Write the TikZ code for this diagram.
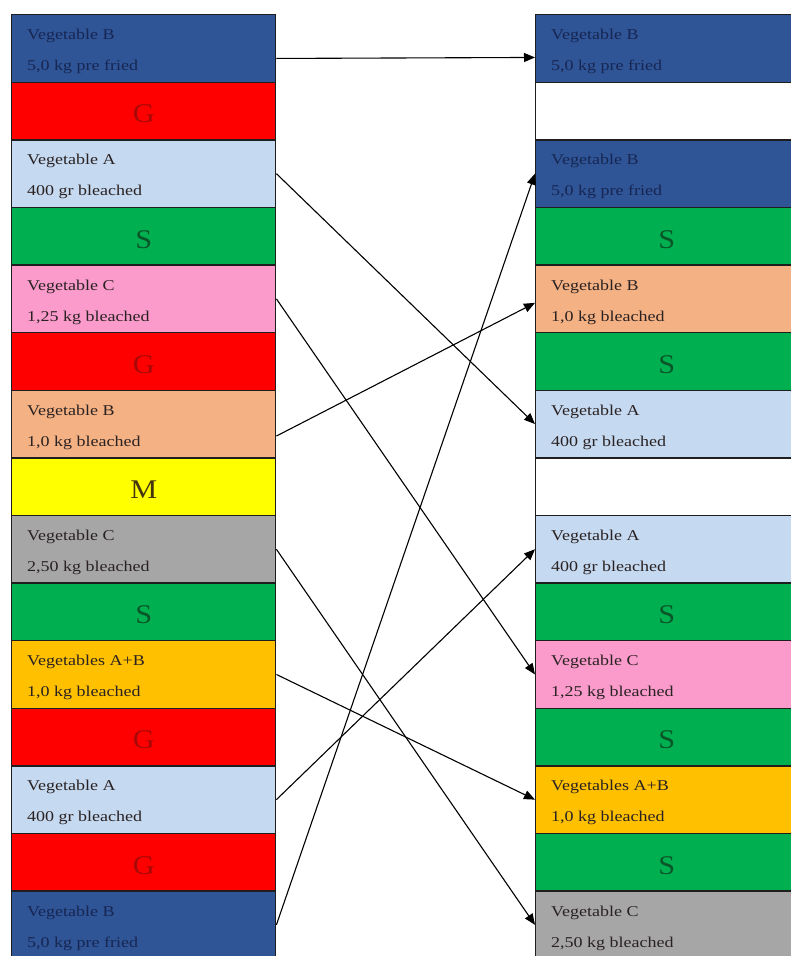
\documentclass[tikz,border=0pt]{standalone}
\usepackage{fontspec}
\setmainfont{Liberation Serif}
\newfontfamily\infofamily[FakeStretch=1.2]{Liberation Serif}
\newfontfamily\tagfamily[FakeStretch=1.12]{Liberation Serif}
\usetikzlibrary{arrows.meta}

\definecolor{cellline}{HTML}{1E1E1E}
\definecolor{vegblue}{HTML}{2F5597}
\definecolor{vegred}{HTML}{FF0000}
\definecolor{veglight}{HTML}{C5D9F1}
\definecolor{veggreen}{HTML}{00B050}
\definecolor{vegpink}{HTML}{FA9BCB}
\definecolor{vegtan}{HTML}{F4B183}
\definecolor{vegyellow}{HTML}{FFFF00}
\definecolor{veggray}{HTML}{A6A6A6}
\definecolor{vegamber}{HTML}{FFC000}
\definecolor{inkdark}{HTML}{2A2222}
\definecolor{inknavy}{HTML}{172652}
\definecolor{inkred}{HTML}{A80808}
\definecolor{inkgreen}{HTML}{0A5628}
\definecolor{inkolive}{HTML}{443510}

\tikzset{
  cell/.style={rectangle, draw=cellline, line width=1.4pt, inner sep=0pt,
    anchor=north west},
  leftcell/.style={cell, minimum width=264pt},
  rightcell/.style={cell, minimum width=262pt},
  tall/.style={minimum height=67.5pt},
  short/.style={minimum height=57.7pt},
  info/.style={anchor=north west, inner sep=0pt, align=left, text=inkdark,
    font=\infofamily\fontsize{15pt}{31pt}\selectfont},
  tag/.style={inner sep=0pt, yshift=-3pt,
    font=\tagfamily\fontsize{27pt}{27pt}\selectfont},
  flow/.style={draw=black, line width=1.1pt,
    -{Triangle[length=11pt,width=9pt]}}
}

\begin{document}
\begin{tikzpicture}[x=1pt, y=-1pt]
\useasboundingbox (0,0) rectangle (791,956);

% ---------- left column ----------
\node[leftcell, tall,  fill=vegblue]   (L1)  at (11,14)    {};
\node[leftcell, short, fill=vegred]    (L2)  at (11,81.5)  {};
\node[leftcell, tall,  fill=veglight]  (L3)  at (11,139.2) {};
\node[leftcell, short, fill=veggreen]  (L4)  at (11,206.7) {};
\node[leftcell, tall,  fill=vegpink]   (L5)  at (11,264.4) {};
\node[leftcell, short, fill=vegred]    (L6)  at (11,331.9) {};
\node[leftcell, tall,  fill=vegtan]    (L7)  at (11,389.6) {};
\node[leftcell, short, fill=vegyellow] (L8)  at (11,457.1) {};
\node[leftcell, tall,  fill=veggray]   (L9)  at (11,514.8) {};
\node[leftcell, short, fill=veggreen]  (L10) at (11,582.3) {};
\node[leftcell, tall,  fill=vegamber]  (L11) at (11,640)   {};
\node[leftcell, short, fill=vegred]    (L12) at (11,707.5) {};
\node[leftcell, tall,  fill=veglight]  (L13) at (11,765.2) {};
\node[leftcell, short, fill=vegred]    (L14) at (11,832.7) {};
\node[leftcell, tall,  fill=vegblue]   (L15) at (11,890.4) {};

\node[info, text=inknavy] (L1t)  at ([shift={(16,15)}]L1.north west)  {Vegetable B\\5,0 kg pre fried};
\node[tag, text=inkred]   (L2t)  at (L2.center)  {G};
\node[info]               (L3t)  at ([shift={(16,15)}]L3.north west)  {Vegetable A\\400 gr bleached};
\node[tag, text=inkgreen] (L4t)  at (L4.center)  {S};
\node[info]               (L5t)  at ([shift={(16,15)}]L5.north west)  {Vegetable C\\1,25 kg bleached};
\node[tag, text=inkred]   (L6t)  at (L6.center)  {G};
\node[info]               (L7t)  at ([shift={(16,15)}]L7.north west)  {Vegetable B\\1,0 kg bleached};
\node[tag, text=inkolive] (L8t)  at (L8.center)  {M};
\node[info]               (L9t)  at ([shift={(16,15)}]L9.north west)  {Vegetable C\\2,50 kg bleached};
\node[tag, text=inkgreen] (L10t) at (L10.center) {S};
\node[info]               (L11t) at ([shift={(16,15)}]L11.north west) {Vegetables A+B\\1,0 kg bleached};
\node[tag, text=inkred]   (L12t) at (L12.center) {G};
\node[info]               (L13t) at ([shift={(16,15)}]L13.north west) {Vegetable A\\400 gr bleached};
\node[tag, text=inkred]   (L14t) at (L14.center) {G};
\node[info, text=inknavy] (L15t) at ([shift={(16,15)}]L15.north west) {Vegetable B\\5,0 kg pre fried};

% ---------- right column ----------
\node[rightcell, tall,  fill=vegblue]  (R1)  at (535,14)    {};
\node[rightcell, short, fill=white]    (R2)  at (535,81.5)  {};
\node[rightcell, tall,  fill=vegblue]  (R3)  at (535,139.2) {};
\node[rightcell, short, fill=veggreen] (R4)  at (535,206.7) {};
\node[rightcell, tall,  fill=vegtan]   (R5)  at (535,264.4) {};
\node[rightcell, short, fill=veggreen] (R6)  at (535,331.9) {};
\node[rightcell, tall,  fill=veglight] (R7)  at (535,389.6) {};
\node[rightcell, short, fill=white]    (R8)  at (535,457.1) {};
\node[rightcell, tall,  fill=veglight] (R9)  at (535,514.8) {};
\node[rightcell, short, fill=veggreen] (R10) at (535,582.3) {};
\node[rightcell, tall,  fill=vegpink]  (R11) at (535,640)   {};
\node[rightcell, short, fill=veggreen] (R12) at (535,707.5) {};
\node[rightcell, tall,  fill=vegamber] (R13) at (535,765.2) {};
\node[rightcell, short, fill=veggreen] (R14) at (535,832.7) {};
\node[rightcell, tall,  fill=veggray]  (R15) at (535,890.4) {};

\node[info, text=inknavy] (R1t)  at ([shift={(16,15)}]R1.north west)  {Vegetable B\\5,0 kg pre fried};
\node[info, text=inknavy] (R3t)  at ([shift={(16,15)}]R3.north west)  {Vegetable B\\5,0 kg pre fried};
\node[tag, text=inkgreen] (R4t)  at (R4.center)  {S};
\node[info]               (R5t)  at ([shift={(16,15)}]R5.north west)  {Vegetable B\\1,0 kg bleached};
\node[tag, text=inkgreen] (R6t)  at (R6.center)  {S};
\node[info]               (R7t)  at ([shift={(16,15)}]R7.north west)  {Vegetable A\\400 gr bleached};
\node[info]               (R9t)  at ([shift={(16,15)}]R9.north west)  {Vegetable A\\400 gr bleached};
\node[tag, text=inkgreen] (R10t) at (R10.center) {S};
\node[info]               (R11t) at ([shift={(16,15)}]R11.north west) {Vegetable C\\1,25 kg bleached};
\node[tag, text=inkgreen] (R12t) at (R12.center) {S};
\node[info]               (R13t) at ([shift={(16,15)}]R13.north west) {Vegetables A+B\\1,0 kg bleached};
\node[tag, text=inkgreen] (R14t) at (R14.center) {S};
\node[info]               (R15t) at ([shift={(16,15)}]R15.north west) {Vegetable C\\2,50 kg bleached};

% ---------- reassignment arrows ----------
\draw[flow] ([yshift=-10pt]L1.east) -- ([yshift=-9pt]R1.west);
\draw[flow] (L3.east)  -- (R7.west);
\draw[flow] (L5.east)  -- (R11.west);
\draw[flow] ([yshift=-12pt]L7.east) -- ([yshift=-4pt]R5.west);
\draw[flow] (L9.east)  -- (R15.west);
\draw[flow] (L11.east) -- (R13.west);
\draw[flow] (L13.east) -- (R9.west);
\draw[flow] (L15.east) -- (R3.west);
\end{tikzpicture}
\end{document}
